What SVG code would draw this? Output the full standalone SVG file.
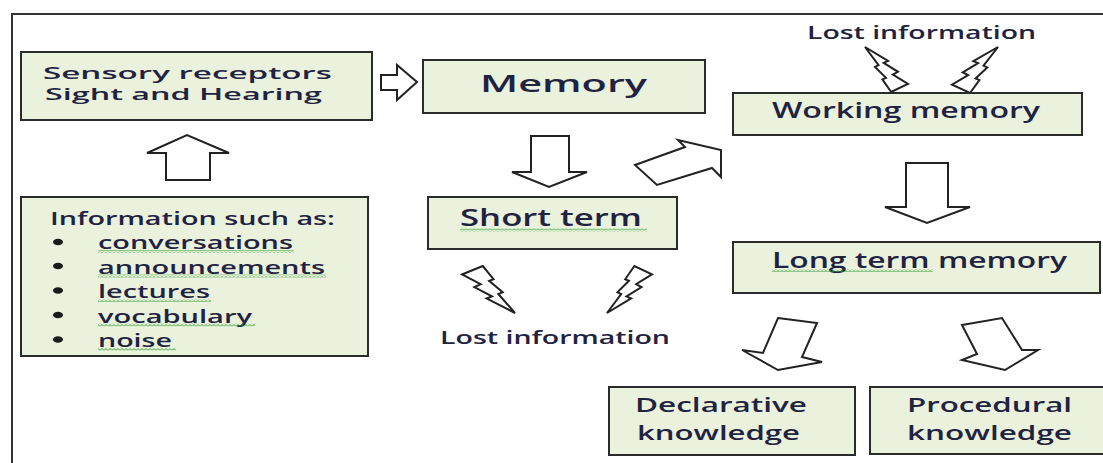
<svg xmlns="http://www.w3.org/2000/svg" xmlns:xlink="http://www.w3.org/1999/xlink" width="1103" height="463" viewBox="0 0 1103 463">
  <defs>
    <style>
      .box { fill: #eaf1dd; stroke: #2b2b2b; stroke-width: 2; }
      .lbl { font-family: "Open Sans", "Liberation Sans", sans-serif; font-weight: 600; fill: #1f2340; }
      .arrow { fill: #ffffff; stroke: #222222; stroke-width: 2; stroke-linejoin: miter; }
      .bolt { fill: #ffffff; stroke: #222222; stroke-width: 2; vector-effect: non-scaling-stroke; stroke-linejoin: miter; }
      .dot { fill: #1a1a1a; }
      .wavy { fill: url(#squiggle); }
    </style>
    <!-- green spell-check squiggle -->
    <pattern id="squiggle" width="4" height="3" patternUnits="userSpaceOnUse">
      <polyline points="0,2.5 2,0.5 4,2.5" fill="none" stroke="#2ca02c" stroke-width="1"/>
    </pattern>
    <!-- lightning bolt in a 100x100 box, tip at bottom right -->
    <path id="boltShape" class="bolt" d="M39.2,0 L59.5,28.1 L51.2,31.5 L76.7,55.6 L68.5,59.6 L100,100 L46.4,69.1 L56.6,64.8 L23.3,44.9 L35.2,38.8 L0,18 Z"/>
  </defs>

  <rect width="1103" height="463" fill="#ffffff"/>

  <!-- outer frame -->
  <rect x="12" y="14" width="1200" height="600" fill="none" stroke="#333333" stroke-width="2"/>

  <g id="connectors">
    <!-- sensory -> memory -->
    <polygon class="arrow" points="381,75 397,75 397,65 417,82 397,100 397,90 381,90"/>
    <!-- information -> sensory -->
    <polygon class="arrow" points="166,180 166,153 147,153 187,135 229,153 210,153 210,180"/>
    <!-- memory -> short term -->
    <polygon class="arrow" points="531,136 569,136 569,172 587,172 549,187 512,172 531,172"/>
    <!-- short term -> working memory -->
    <polygon class="arrow" points="635,165 685,147 678,140 721,150 721,177 712,168 657,185"/>
    <!-- working -> long term -->
    <polygon class="arrow" points="906,163 948,163 948,207 970,207 927,223 885,207 906,207"/>
    <!-- long term -> declarative -->
    <polygon class="arrow" points="778,318 817,323 802,357 822,362 778,370 742,350 763,353"/>
    <!-- long term -> procedural -->
    <polygon class="arrow" points="962,325 1002,318 1022,350 1038,350 1005,370 962,360 977,354"/>
    <!-- lightning bolts: short term losses -->
    <use xlink:href="#boltShape" transform="translate(462,266) scale(0.53,0.47)"/>
    <use xlink:href="#boltShape" transform="translate(652,266) scale(-0.45,0.47)"/>
    <!-- lightning bolts: working memory losses -->
    <use xlink:href="#boltShape" transform="translate(908,92) scale(-0.43,-0.45)"/>
    <use xlink:href="#boltShape" transform="translate(952,93) scale(0.46,-0.46)"/>
  </g>

  <g id="sensory">
    <rect class="box" x="21" y="52" width="351" height="68"/>
    <text class="lbl" x="43" y="79" font-size="16.5" textLength="289" lengthAdjust="spacingAndGlyphs">Sensory receptors</text>
    <text class="lbl" x="45" y="100" font-size="16.5" textLength="277" lengthAdjust="spacingAndGlyphs">Sight and Hearing</text>
  </g>

  <g id="memory">
    <rect class="box" x="423" y="60" width="282" height="53"/>
    <text class="lbl" x="480" y="92" font-size="23" textLength="167" lengthAdjust="spacingAndGlyphs">Memory</text>
  </g>

  <g id="information">
    <rect class="box" x="21" y="197" width="347" height="159"/>
    <text class="lbl" x="50" y="225" font-size="18.5" textLength="285" lengthAdjust="spacingAndGlyphs">Information such as:</text>
    <ellipse class="dot" cx="58" cy="242" rx="5" ry="3.3"/>
    <ellipse class="dot" cx="58" cy="266" rx="5" ry="3.3"/>
    <ellipse class="dot" cx="58" cy="290.5" rx="5" ry="3.3"/>
    <ellipse class="dot" cx="58" cy="315" rx="5" ry="3.3"/>
    <ellipse class="dot" cx="58" cy="339.5" rx="5" ry="3.3"/>
    <text class="lbl" x="98" y="249" font-size="18.5" textLength="195" lengthAdjust="spacingAndGlyphs">conversations</text>
    <text class="lbl" x="98" y="273.5" font-size="18.5" textLength="227" lengthAdjust="spacingAndGlyphs">announcements</text>
    <text class="lbl" x="98" y="298" font-size="18.5" textLength="112" lengthAdjust="spacingAndGlyphs">lectures</text>
    <text class="lbl" x="98" y="322.5" font-size="18.5" textLength="154" lengthAdjust="spacingAndGlyphs">vocabulary</text>
    <text class="lbl" x="98" y="347" font-size="18.5" textLength="74" lengthAdjust="spacingAndGlyphs">noise</text>
    <rect class="wavy" x="98" y="250" width="196" height="3"/>
    <rect class="wavy" x="98" y="274.5" width="228" height="3"/>
    <rect class="wavy" x="98" y="299" width="113" height="3"/>
    <rect class="wavy" x="98" y="323.5" width="157" height="3"/>
    <rect class="wavy" x="98" y="348" width="78" height="3"/>
  </g>

  <g id="short-term">
    <rect class="box" x="428" y="197" width="249" height="52"/>
    <text class="lbl" x="460" y="226" font-size="23" textLength="182" lengthAdjust="spacingAndGlyphs">Short term</text>
    <rect class="wavy" x="460" y="228.5" width="187" height="3"/>
  </g>

  <g id="lost-short">
    <text class="lbl" x="440" y="344" font-size="17.5" textLength="230" lengthAdjust="spacingAndGlyphs">Lost information</text>
  </g>

  <g id="lost-working">
    <text class="lbl" x="807" y="39" font-size="18" textLength="229" lengthAdjust="spacingAndGlyphs">Lost information</text>
  </g>

  <g id="working">
    <rect class="box" x="733" y="93" width="349" height="42"/>
    <text class="lbl" x="772" y="118" font-size="21" textLength="268" lengthAdjust="spacingAndGlyphs">Working memory</text>
  </g>

  <g id="long-term">
    <rect class="box" x="733" y="242" width="367" height="51"/>
    <text class="lbl" x="772" y="268" font-size="21.5" textLength="295" lengthAdjust="spacingAndGlyphs">Long term memory</text>
    <rect class="wavy" x="772" y="269" width="161" height="3"/>
  </g>

  <g id="declarative">
    <rect class="box" x="609" y="387" width="246" height="68"/>
    <text class="lbl" x="635" y="412" font-size="19" textLength="172" lengthAdjust="spacingAndGlyphs">Declarative</text>
    <text class="lbl" x="637" y="440" font-size="19" textLength="163" lengthAdjust="spacingAndGlyphs">knowledge</text>
  </g>

  <g id="procedural">
    <rect class="box" x="870" y="387" width="260" height="67"/>
    <text class="lbl" x="907" y="412" font-size="19" textLength="165" lengthAdjust="spacingAndGlyphs">Procedural</text>
    <text class="lbl" x="907" y="440" font-size="19" textLength="165" lengthAdjust="spacingAndGlyphs">knowledge</text>
  </g>
</svg>
